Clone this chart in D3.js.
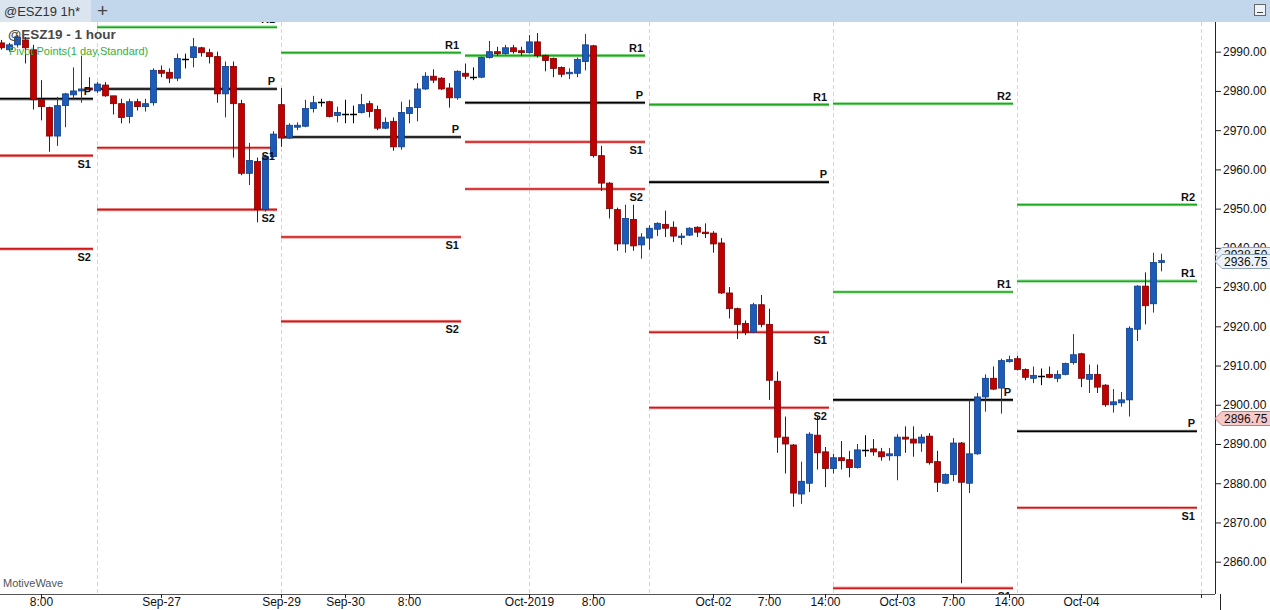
<!DOCTYPE html>
<html><head><meta charset="utf-8">
<script src="https://cdn.jsdelivr.net/npm/d3@7"></script>
<style>body{margin:0;background:#fff;}svg{display:block;font-family:"Liberation Sans",Arial,sans-serif;}</style>
</head><body><svg id="c" width="1270" height="610"></svg>
<script>
// ---- data (hourly bars, index 0 = first visible bar) ----
const openP=[2992.25,2990.5,2991.75,2993,2990.5,2977.75,2975.75,2968.5,2976.25,2979,2980,2980.75,
2980,2981.5,2978.75,2976.75,2973.5,2977.25,2976,2977,2985.25,2984.75,2983.25,2988.25,2988.5,2991,2989.75,2988.75,2979.25,2986.25,2976.75,2959,2962,2949.75,2963.25,
2976.5,2968,2970.75,2971,2975.5,2977.25,2977.25,2973.75,2974,2974,2974.5,2976.75,2975.25,2970.5,2972.25,2965.75,2974.25,2975.75,2980.5,2983.75,2983.25,2980.75,2978.25,
2984.5,2983.5,2983.5,2988.5,2990,2989.5,2991,2990.25,2989.75,2992.5,2989,2988.25,2986,2984.5,2984.5,2987.5,2991.5,2963.5,2956.5,2949.75,2941,2947.25,2940.75,
2942.5,2944.75,2946,2945.25,2942.75,2943.25,2945.25,2944,2943.75,2941.25,2928.5,2924.5,2920.75,2918.5,2925.5,2920.5,2906,2891.75,2889.75,2877.25,2880,2892.25,2888,
2883.75,2886.5,2886,2884,2888.5,2888.75,2888,2887,2887,2891.75,2891.25,2890.25,2892,2885.5,2880,2882.25,2890.25,2880,2887.5,2902,2906.75,2904.25,2911,
2911.75,2909,2906.75,2907.25,2907.75,2906.75,2907.75,2910.75,2913,2906.5,2907.75,2905,2900,2900.5,2901.25,2919.25,2930.25,2925.75,2936.25];
const highP=[2993,2992.25,2994.25,2993.75,2991.75,2982.75,2976,2978.5,2979.5,2986,2989,2983.5,
2982.25,2982.25,2978.75,2978,2978,2978,2978,2985.75,2986.5,2985.75,2989.5,2989.5,2993.5,2991.25,2990.75,2990,2987.5,2987.5,2977.75,2966.75,2963,2963.75,2969.75,
2980.75,2971.75,2972,2977.75,2978.75,2978,2977.5,2976,2977.75,2976.25,2979.25,2977.5,2976.25,2973.25,2973.25,2977.25,2977.75,2982,2984.75,2985.5,2983.5,2982,2985.25,
2987,2986,2988.75,2992.75,2991.25,2991.75,2991.75,2991.25,2994.25,2994.75,2989.25,2988.5,2986.25,2985.75,2988.5,2994.5,2991.75,2966,2956.75,2950.25,2951,2951,2943.75,
2945.75,2946.5,2949.5,2946.75,2943.75,2945.25,2945.5,2946.25,2944.25,2942.5,2930,2924.75,2921.5,2926,2928,2924.5,2908.5,2897,2890,2885.5,2893,2897,2889.25,
2887.5,2890.75,2888.25,2890,2892.25,2891.25,2889,2889,2892.5,2894.5,2894.5,2892.5,2892.75,2888.25,2882.5,2891.5,2890.5,2901.25,2903,2907.75,2909.75,2911.75,2912.5,
2912.5,2909.25,2909.75,2909.25,2909.75,2908.75,2910.75,2918,2913.25,2910.25,2910.25,2905.25,2904,2903.25,2920,2930.5,2933.75,2938.75,2938.5];
const lowP=[2990.5,2990,2991.25,2987,2975.25,2972.5,2964.5,2966,2970.75,2977.75,2977,2979.75,
2979.5,2978.5,2974,2971.75,2971.75,2975,2974.75,2976.25,2983.5,2982,2982.5,2985.75,2986,2988.75,2987,2977,2973.25,2963,2958.5,2956,2946.5,2949.25,2963,
2965.75,2967.75,2970,2970.75,2974.5,2976,2973.25,2972,2971.75,2971.75,2974.25,2973.25,2970,2970.25,2964.75,2965,2971.75,2972.25,2980.25,2982,2980.25,2975.75,2977.75,
2983,2982.75,2983.25,2988.25,2989,2989.25,2989.5,2989,2989.5,2988.5,2985,2983.5,2983.5,2983,2983.5,2985.25,2963,2954.5,2947.5,2939.25,2938.75,2939.25,2937.25,
2939.5,2943,2942.75,2941.5,2940.75,2943,2942.75,2942.5,2938.75,2928.25,2922,2916.75,2917.75,2918.25,2919.75,2901.25,2887.75,2882.5,2874,2874.75,2877.75,2883.5,2879,
2882.5,2883.5,2881.5,2883.75,2886.75,2887,2885.75,2885.75,2880.75,2887.75,2886.75,2888,2884.75,2877.75,2879.75,2880.5,2854.5,2877.5,2887.25,2898.25,2903.75,2897.75,2910.75,
2908.75,2906.25,2905.5,2905,2906.75,2905.75,2907.5,2910.25,2904.5,2903,2903,2899.5,2898,2899.5,2897,2916.25,2920.5,2923.5,2934];
const closeP=[2991,2991.75,2993.75,2991,2977.75,2976,2968.5,2976.25,2979.25,2980,2980.5,2980.25,
2981.75,2978.75,2976.75,2973.25,2977.25,2976,2976.75,2985.25,2984.5,2983.25,2988.25,2988.25,2991.25,2989.75,2988.75,2979.25,2986.25,2976.75,2959,2962.25,2949.75,2963.25,2969,
2968,2971.25,2971.25,2975.5,2977,2977.25,2973.5,2974.5,2974,2974,2976.5,2974.75,2970.5,2972,2965.75,2974.5,2975.75,2980.5,2983.75,2982.75,2980.5,2978.25,2985,
2983.75,2983.5,2988.5,2990,2989.5,2991,2990,2989.75,2992.5,2989,2987.75,2985.75,2984.25,2984.75,2988,2991.75,2963.5,2956.5,2950,2941,2947.5,2940.5,2942.75,
2945,2946.25,2945,2943,2943,2945,2944,2943.75,2941,2928.5,2924.5,2920.5,2918.5,2925.5,2920.5,2906.25,2891.75,2890,2877.5,2880.5,2892.5,2887.75,2883.75,
2886.5,2885.75,2884,2888.5,2888.5,2888,2886.75,2887.5,2891.75,2891.25,2890.25,2891.75,2885.25,2880.25,2882.25,2890.25,2880.25,2887.5,2902,2906.75,2904,2911.25,2911.5,
2909,2907,2907.5,2907.25,2907,2907.75,2910.5,2912.75,2906.75,2907.75,2904.5,2900,2900.75,2901.25,2919.5,2930.25,2925.25,2936.25,2936.75];

// daily pivot sessions (bar index range) and levels
const sessionStart=[-11,12,35,58,81,104,127];
const sessionEnd=[12,35,58,81,104,127,150];
const pivotR2=[3016,3011.25,3015.25,2999,3014.75,2976.75,2951];
const pivotR1=[3001.75,2996.25,2989.75,2989,2976.5,2928.75,2931.5];
const pivotP=[2978,2980.5,2968.25,2977,2956.75,2901.25,2893.25];
const pivotS1=[2963.5,2965.5,2942.75,2967,2918.5,2853.25,2873.75];
const pivotS2=[2939.75,2949.75,2921.25,2955,2899.25,2825.75,2835.75];

const gridBars=[12,35,66,81,104,127,150];
const tickBars=[5,20,35,43,51,66,74,89,96,103,112,119,126,135,150];
const tickLabels=["8:00","Sep-27","Sep-29","Sep-30","8:00","Oct-2019","8:00","Oct-02","7:00","14:00","Oct-03","7:00","14:00","Oct-04",""];
const yTicks=[2860,2870,2880,2890,2900,2910,2920,2930,2940,2950,2960,2970,2980,2990];
const lastPrice=2936.75, highMark=2938.5, redMark=2896.75;

// ---- drawing ----
const svg=d3.select('#c');
const W=1270,H=610;
const plot={l:0,t:22,r:1215,b:594};
const x=d3.scaleLinear().domain([0,150]).range([1,1201]);
const y=d3.scaleLinear().domain([2860,2990]).range([561.7,51.7]);

svg.append('rect').attr('width',W).attr('height',H).attr('fill','#fff');
svg.append('defs').append('clipPath').attr('id','pc').append('rect')
  .attr('x',plot.l).attr('y',plot.t).attr('width',plot.r-plot.l).attr('height',plot.b-plot.t);

const g=svg.append('g').attr('clip-path','url(#pc)');

// vertical dashed grid
g.selectAll('line.grid').data(gridBars).join('line').attr('class','grid')
  .attr('x1',d=>Math.round(x(d))+0.5).attr('x2',d=>Math.round(x(d))+0.5)
  .attr('y1',plot.t).attr('y2',plot.b)
  .attr('stroke','#d4d4d4').attr('stroke-dasharray','4,3').attr('stroke-width',1);

// pivot lines
const levels=[
 {name:'R2',vals:pivotR2,core:'#1fa81f',halo:'#9be09b',above:true},
 {name:'R1',vals:pivotR1,core:'#1fa81f',halo:'#9be09b',above:true},
 {name:'P',vals:pivotP,core:'#000',halo:'#9a9a9a',above:true},
 {name:'S1',vals:pivotS1,core:'#cc1a1a',halo:'#f2a3a3',above:false},
 {name:'S2',vals:pivotS2,core:'#cc1a1a',halo:'#f2a3a3',above:false}
];
const segs=[];
levels.forEach(L=>L.vals.forEach((v,s)=>{
  const yy=y(v);
  if(yy<plot.t||yy>plot.b) return;
  segs.push({name:L.name,v:v,x1:Math.max(0,x(sessionStart[s])),x2:x(sessionEnd[s])-4,core:L.core,halo:L.halo,above:L.above});
}));
const sg=g.append('g');
sg.selectAll('line.h').data(segs).join('line')
  .attr('x1',d=>d.x1).attr('x2',d=>d.x2).attr('y1',d=>y(d.v)).attr('y2',d=>y(d.v))
  .attr('stroke',d=>d.halo).attr('stroke-width',3.2);
sg.selectAll('line.c').data(segs).join('line')
  .attr('x1',d=>d.x1).attr('x2',d=>d.x2).attr('y1',d=>y(d.v)).attr('y2',d=>y(d.v))
  .attr('stroke',d=>d.core).attr('stroke-width',1.6);

// candles
const bars=openP.map((o,i)=>({i,o,h:highP[i],l:lowP[i],c:closeP[i]}));
const colorOf=d=>d.c>d.o?'up':(d.c<d.o?'down':'doji');
const fill={up:'#1c5cb8',down:'#c00000',doji:'#000'};
const edge={up:'#0f3f88',down:'#7d0000',doji:'#000'};
const cg=g.append('g');
cg.selectAll('line.w').data(bars).join('line')
  .attr('x1',d=>Math.round(x(d.i))+0.5).attr('x2',d=>Math.round(x(d.i))+0.5)
  .attr('y1',d=>y(d.h)).attr('y2',d=>y(d.l))
  .attr('stroke',d=>edge[colorOf(d)]).attr('stroke-width',1);
cg.selectAll('rect.b').data(bars.filter(d=>colorOf(d)!=='doji')).join('rect')
  .attr('x',d=>Math.round(x(d.i))-2.5).attr('width',6)
  .attr('y',d=>Math.min(y(d.o),y(d.c))).attr('height',d=>Math.max(1.5,Math.abs(y(d.o)-y(d.c))))
  .attr('fill',d=>fill[colorOf(d)]).attr('stroke',d=>edge[colorOf(d)]).attr('stroke-width',0.8);
cg.selectAll('line.dj').data(bars.filter(d=>colorOf(d)==='doji')).join('line')
  .attr('x1',d=>Math.round(x(d.i))-3).attr('x2',d=>Math.round(x(d.i))+4)
  .attr('y1',d=>Math.round(y(d.o))+0.5).attr('y2',d=>Math.round(y(d.o))+0.5)
  .attr('stroke','#000').attr('stroke-width',1.5);

// pivot labels
g.append('g').selectAll('text').data(segs).join('text')
  .attr('x',d=>d.x2-2).attr('y',d=>d.above?y(d.v)-4:y(d.v)+12)
  .attr('text-anchor','end').attr('font-size',11).attr('font-weight','bold').attr('fill','#111')
  .text(d=>d.name);

// x axis
const xAxis=d3.axisBottom(x).tickValues(tickBars).tickFormat((d,i)=>tickLabels[i]).tickSize(4).tickPadding(0);
const xa=svg.append('g').attr('transform',`translate(0,${plot.b})`).call(xAxis);
xa.select('.domain').attr('d',`M0,0.5H${plot.r}`).attr('stroke','#555');
xa.selectAll('.tick line').attr('stroke','#222');
xa.selectAll('.tick text').attr('font-size',12).attr('fill','#111').attr('dy','0.68em').attr('font-family','"Liberation Sans",Arial,sans-serif');

// y axis
const minor=d3.range(2852,3000,2).filter(v=>v%10!==0);
const ya=svg.append('g').attr('transform',`translate(${plot.r},0)`);
ya.call(d3.axisRight(y).tickValues(minor).tickSize(3).tickFormat(''));
ya.call(d3.axisRight(y).tickValues(yTicks).tickSize(6).tickPadding(2).tickFormat(d3.format('.2f')));
ya.selectAll('.domain').attr('d',`M0.5,${plot.t}V${plot.b}`).attr('stroke','#222');
ya.selectAll('.tick line').attr('stroke','#222');
ya.selectAll('.tick').filter(d=>y(d)<plot.t||y(d)>plot.b).remove();
ya.selectAll('.tick text').attr('font-size',12).attr('fill','#111').attr('font-family','"Liberation Sans",Arial,sans-serif');
svg.append('line').attr('x1',1220.5).attr('x2',1220.5).attr('y1',plot.b).attr('y2',H).attr('stroke','#222');

// price markers
function marker(v,fillC,strokeC){
  const yy=Math.round(y(v))+0.5;
  const m=svg.append('g');
  m.append('path').attr('d',`M${plot.r},${yy}L${plot.r+7},${yy-7}H${W+2}V${yy+7}H${plot.r+7}Z`)
    .attr('fill',fillC).attr('stroke',strokeC).attr('stroke-width',1);
  m.append('text').attr('x',plot.r+9).attr('y',yy+4.5).attr('font-size',12).attr('fill','#111').text(d3.format('.2f')(v));
}
marker(highMark,'#e6eef7','#8fa3ba');
marker(lastPrice,'#eef3f9','#8fa3ba');
marker(redMark,'#f7c9c9','#cf7a7a');

// legend texts
svg.append('text').attr('x',8).attr('y',39).attr('font-size',13.5).attr('font-weight','bold').attr('fill','#484848').text('@ESZ19 - 1 hour');
svg.append('text').attr('x',9).attr('y',55).attr('font-size',11).attr('fill','#35b035').text('Pivot Points(1 day,Standard)');
svg.append('text').attr('x',3).attr('y',587).attr('font-size',11).attr('fill','#555').text('MotiveWave');

// tab bar
svg.append('rect').attr('x',0).attr('y',0).attr('width',W).attr('height',22).attr('fill','#c3d7ec');
svg.append('rect').attr('x',0).attr('y',0).attr('width',91).attr('height',22).attr('fill','#dbe5f0');
svg.append('text').attr('x',4).attr('y',16).attr('font-size',13).attr('fill','#333').text('@ESZ19 1h*');
svg.append('text').attr('x',97).attr('y',17).attr('font-size',19).attr('fill','#444').text('+');
svg.append('rect').attr('x',1254.5).attr('y',4.5).attr('width',11).attr('height',11).attr('fill','#eef3f9').attr('stroke','#666');
svg.append('line').attr('x1',1257).attr('x2',1263).attr('y1',12.5).attr('y2',12.5).attr('stroke','#444');
</script></body></html>
